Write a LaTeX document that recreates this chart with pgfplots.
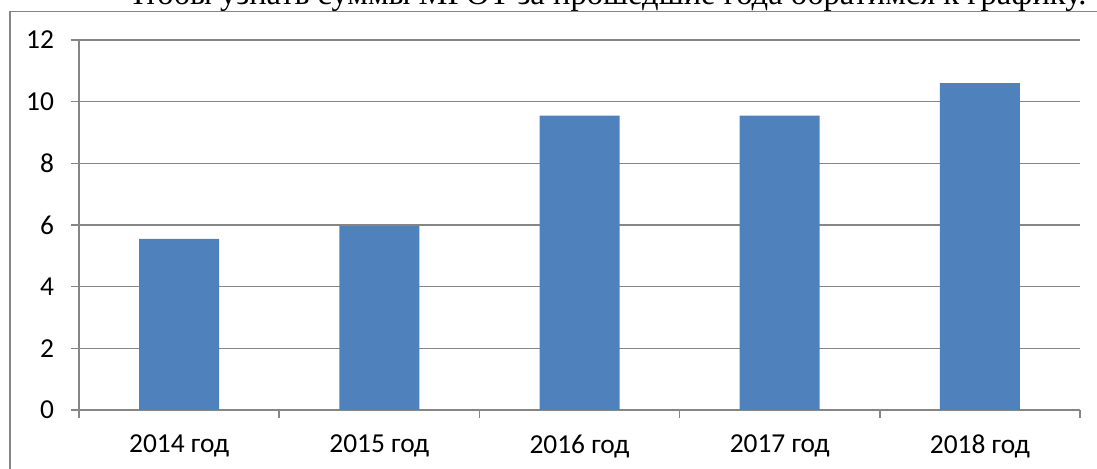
\documentclass[border=0pt]{standalone}
\usepackage{pgfplots}
\pgfplotsset{compat=1.18}
\usepackage{fontspec}
\setmainfont{Carlito}
\newfontfamily\seriffont{Liberation Serif}
\definecolor{barblue}{HTML}{4F81BD}
\definecolor{gridgray}{HTML}{868686}
\begin{document}
\begin{tikzpicture}[x=0.5pt,y=0.5pt]
\useasboundingbox (0,0) rectangle (1097,469);
\clip (0,0) rectangle (1097,469);
\draw[gridgray, line width=0.9pt] (10,-10) -- (10,457.5) -- (1110,457.5);
\node[anchor=base west, inner sep=0] at (122,464) {\seriffont\resizebox{482pt}{!}{Чтобы узнать суммы МРОТ за прошедшие года обратимся к графику.}};
\begin{axis}[
  at={(39.5pt,29.5pt)}, anchor=south west,
  scale only axis, width=500.5pt, height=185pt,
  ymin=0, ymax=12, ytick={0,2,...,12},
  xmin=0.5, xmax=5.5,
  xtick={1,2,3,4,5},
  xticklabels={2014 год,2015 год,2016 год,2017 год,2018 год},
  minor xtick={0.5,1.5,...,5.5},
  axis x line*=bottom, axis y line*=left,
  axis line style={gridgray, line width=0.75pt, -},
  ymajorgrids,
  grid style={gridgray, line width=0.75pt},
  tick style={gridgray, line width=0.75pt},
  major x tick style={draw=none},
  tick align=outside,
  major tick length=4pt, minor tick length=4pt,
  tick label style={font=\fontsize{13.7pt}{16pt}\selectfont, text=black},
  xticklabel style={yshift=-5pt},
  yticklabel style={xshift=-5pt, /pgf/number format/assume math mode=true},
  ybar, bar width=40pt,
]
\addplot[fill=barblue, draw=none] coordinates {(1,5.55) (2,5.97) (3,9.55) (4,9.55) (5,10.6)};
\end{axis}
\end{tikzpicture}
\end{document}
